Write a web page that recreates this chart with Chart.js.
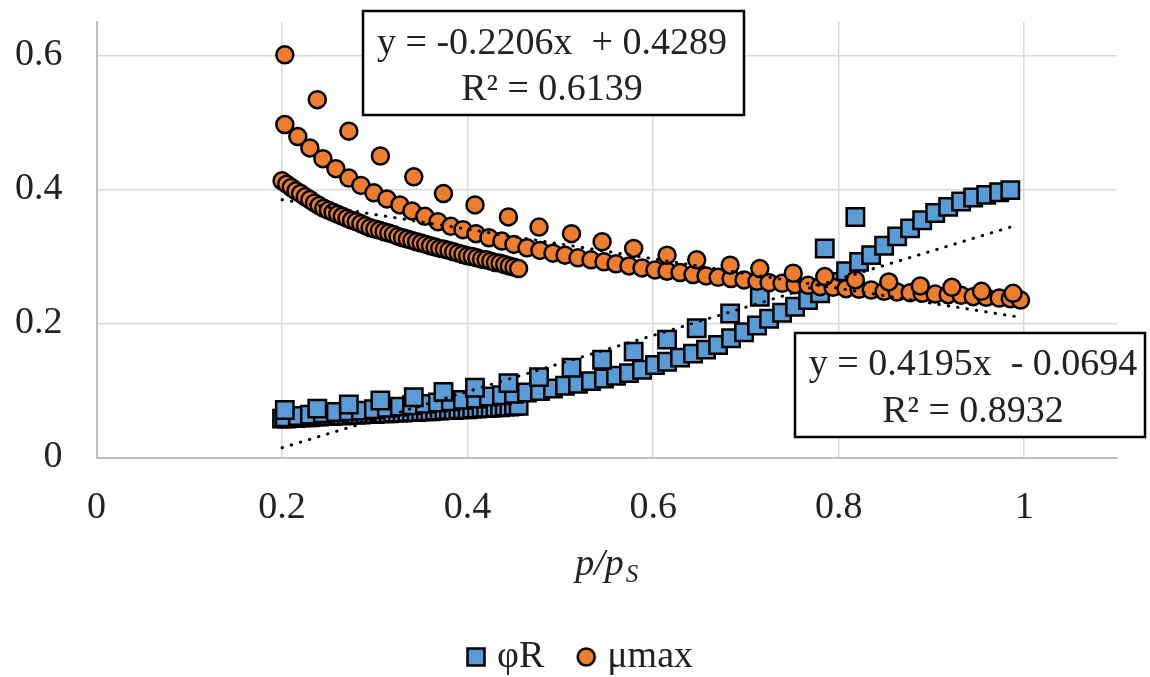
<!DOCTYPE html>
<html>
<head>
<meta charset="utf-8">
<script src="https://cdn.jsdelivr.net/npm/chart.js@4.4.1/dist/chart.umd.min.js"></script>
<style>
    html, body { margin: 0; padding: 0; background: #fff; }
</style>
</head>
<body>
<canvas id="myChart" width="1150" height="677"></canvas>
<script>
    // φR (blue squares) : three runs of measurements
    const phiSparseX = [0.203, 0.238, 0.272, 0.306, 0.342, 0.374, 0.408, 0.444, 0.477, 0.512, 0.545, 0.579, 0.615, 0.647, 0.683, 0.715, 0.785, 0.818];
    const phiSparse = [0.071, 0.073, 0.079, 0.085, 0.090, 0.098, 0.104, 0.111, 0.120, 0.134, 0.146, 0.158, 0.176, 0.193, 0.215, 0.240, 0.312, 0.359];

    const mediumX = [0.203, 0.217, 0.230, 0.244, 0.258, 0.272, 0.285, 0.299, 0.313, 0.327, 0.340, 0.354, 0.368, 0.382, 0.395, 0.409, 0.423, 0.437, 0.450, 0.464,
        0.478, 0.492, 0.505, 0.519, 0.533, 0.547, 0.560, 0.574, 0.588, 0.602, 0.615, 0.629, 0.643, 0.657, 0.670, 0.684, 0.698, 0.712, 0.725, 0.739,
        0.753, 0.767, 0.780, 0.794, 0.808, 0.822, 0.835, 0.849, 0.863, 0.877, 0.890, 0.904, 0.918, 0.932, 0.945, 0.959, 0.973, 0.985, 0.996];
    const phiMedium = [0.060, 0.062, 0.064, 0.066, 0.068, 0.069, 0.070, 0.072, 0.074, 0.076, 0.078, 0.080, 0.082, 0.084, 0.086, 0.088, 0.091, 0.093, 0.095, 0.097,
        0.099, 0.103, 0.107, 0.110, 0.114, 0.118, 0.122, 0.126, 0.131, 0.138, 0.143, 0.149, 0.155, 0.161, 0.168, 0.178, 0.187, 0.197, 0.207, 0.216,
        0.225, 0.235, 0.245, 0.262, 0.278, 0.292, 0.302, 0.316, 0.330, 0.342, 0.354, 0.365, 0.374, 0.382, 0.388, 0.392, 0.396, 0.399];

    const denseX = [0.200, 0.205, 0.210, 0.215, 0.220, 0.225, 0.230, 0.235, 0.240, 0.245, 0.250, 0.255, 0.260, 0.265, 0.270, 0.275, 0.280, 0.285, 0.290, 0.295,
        0.300, 0.305, 0.310, 0.315, 0.320, 0.325, 0.330, 0.335, 0.340, 0.345, 0.350, 0.355, 0.360, 0.365, 0.370, 0.375, 0.380, 0.385, 0.390, 0.395,
        0.400, 0.405, 0.410, 0.415, 0.420, 0.425, 0.430, 0.435, 0.440, 0.445, 0.450, 0.455];
    const phiDense = [0.058, 0.058, 0.059, 0.059, 0.060, 0.060, 0.060, 0.061, 0.061, 0.062, 0.062, 0.062, 0.063, 0.063, 0.063, 0.064, 0.064, 0.064, 0.065, 0.065,
        0.065, 0.066, 0.066, 0.066, 0.067, 0.067, 0.067, 0.068, 0.068, 0.068, 0.069, 0.069, 0.069, 0.070, 0.070, 0.071, 0.071, 0.071, 0.072, 0.072,
        0.072, 0.073, 0.073, 0.074, 0.074, 0.074, 0.075, 0.075, 0.076, 0.076, 0.077, 0.077];

    // μmax (orange circles)
    const muSparseX = [0.203, 0.238, 0.272, 0.306, 0.342, 0.374, 0.408, 0.444, 0.477, 0.512, 0.545, 0.579, 0.615, 0.647, 0.683, 0.715, 0.751, 0.785, 0.818, 0.854,
        0.888, 0.922, 0.954, 0.988];
    const muSparse = [0.601, 0.534, 0.487, 0.450, 0.419, 0.394, 0.377, 0.359, 0.344, 0.334, 0.322, 0.312, 0.302, 0.295, 0.287, 0.282, 0.275, 0.270, 0.265, 0.262,
        0.256, 0.254, 0.248, 0.245];
    const muMedium = [0.497, 0.479, 0.462, 0.446, 0.431, 0.417, 0.406, 0.395, 0.386, 0.377, 0.368, 0.360, 0.352, 0.345, 0.340, 0.334, 0.328, 0.323, 0.318, 0.313,
        0.309, 0.305, 0.302, 0.298, 0.295, 0.292, 0.289, 0.286, 0.283, 0.280, 0.278, 0.276, 0.273, 0.271, 0.269, 0.267, 0.265, 0.263, 0.261, 0.260,
        0.258, 0.257, 0.255, 0.254, 0.252, 0.251, 0.250, 0.248, 0.247, 0.246, 0.245, 0.244, 0.243, 0.242, 0.240, 0.239, 0.238, 0.237, 0.235];
    const muDense = [0.413, 0.408, 0.403, 0.398, 0.394, 0.389, 0.385, 0.380, 0.376, 0.372, 0.369, 0.366, 0.363, 0.360, 0.357, 0.354, 0.352, 0.349, 0.346, 0.343,
        0.341, 0.339, 0.337, 0.335, 0.333, 0.330, 0.328, 0.326, 0.324, 0.322, 0.320, 0.318, 0.316, 0.314, 0.312, 0.311, 0.309, 0.307, 0.305, 0.303,
        0.301, 0.300, 0.298, 0.296, 0.295, 0.293, 0.291, 0.290, 0.288, 0.286, 0.284, 0.282];

    // trendline coefficients, as printed on the chart
    const phiFit = {slope: 0.4195, intercept: -0.0694, r2: 0.8932};
    const muFit = {slope: -0.2206, intercept: 0.4289, r2: 0.6139};

    const xTicksStep = 0.2;
    const yTicksStep = 0.2;

    const serif = "'Liberation Serif', 'Times New Roman', serif";
    const textColor = "#222";
    const blue = "#5B9BD5";
    const orange = "#ED7D31";

    function zip(xs, ys) {
        return ys.map((y, i) => ({x: xs[i], y: y}));
    }

    const phiPoints = [].concat(zip(denseX, phiDense), zip(mediumX, phiMedium), zip(phiSparseX, phiSparse));
    const muPoints = [].concat(zip(denseX, muDense), zip(mediumX, muMedium), zip(muSparseX, muSparse));

    function trend(points, fit) {
        let xs = points.map(p => p.x);
        let lo = Math.min(...xs), hi = Math.max(...xs);
        return [{x: lo, y: fit.slope * lo + fit.intercept}, {x: hi, y: fit.slope * hi + fit.intercept}];
    }

    // little canvases for the legend markers
    function legendMark(kind, color) {
        const c = document.createElement("canvas");
        c.width = 22; c.height = 22;
        const g = c.getContext("2d");
        g.fillStyle = color;
        g.strokeStyle = "#000";
        g.lineWidth = 2.5;
        g.beginPath();
        if (kind === "rect") g.rect(2.5, 2.5, 17, 17);
        else g.arc(11, 11, 8.5, 0, Math.PI * 2);
        g.fill();
        g.stroke();
        return c;
    }
    const legendMarks = [legendMark("rect", blue), legendMark("circle", orange)];

    const fmtNum = (v) => v.toFixed(4);
    const fmtTick = (v) => String(Math.round(v * 10) / 10);

    const boxesPlugin = {
        id: "equationBoxes",
        afterLayout(chart) {
            // legend sits a bit right of the canvas centre in the original
            chart.legend.left += 25;
            chart.legend.right += 25;
        },
        afterDraw(chart) {
            const ctx = chart.ctx;
            const boxes = [
                {rect: [363, 11, 381, 104], cx: 552, base: 53.5,
                    lines: ["y = " + fmtNum(muFit.slope) + "x  + " + fmtNum(muFit.intercept), "R\u00B2 = " + fmtNum(muFit.r2)]},
                {rect: [795, 333, 350, 104], cx: 973, base: 375,
                    lines: ["y = " + fmtNum(phiFit.slope) + "x  - " + fmtNum(-phiFit.intercept), "R\u00B2 = " + fmtNum(phiFit.r2)]}
            ];
            ctx.save();
            boxes.forEach(b => {
                ctx.fillStyle = "#fff";
                ctx.fillRect(b.rect[0], b.rect[1], b.rect[2], b.rect[3]);
                ctx.strokeStyle = "#000";
                ctx.lineWidth = 2.5;
                ctx.strokeRect(b.rect[0], b.rect[1], b.rect[2], b.rect[3]);
                ctx.fillStyle = textColor;
                ctx.font = "38px " + serif;
                ctx.textAlign = "center";
                ctx.textBaseline = "alphabetic";
                ctx.fillText(b.lines[0], b.cx, b.base);
                ctx.fillText(b.lines[1], b.cx, b.base + 46.5);
            });

            // axis title p/pS with subscript
            const area = chart.chartArea;
            ctx.textAlign = "left";
            ctx.font = "italic 38px " + serif;
            const main = "p/p";
            const wMain = ctx.measureText(main).width;
            ctx.font = "italic 25px " + serif;
            const wSub = ctx.measureText("S").width;
            let x0 = (area.left + area.right) / 2 - (wMain + wSub + 2) / 2;
            ctx.font = "italic 38px " + serif;
            ctx.fillText(main, x0, 575);
            ctx.font = "italic 25px " + serif;
            ctx.fillText("S", x0 + wMain + 2, 582);
            ctx.restore();
        }
    };

    const ctx = document.getElementById("myChart").getContext("2d");

    const myChart = new Chart(ctx, {
        type: "scatter",
        data: {
            datasets: [
                {
                    label: "φR",
                    data: phiPoints,
                    pointStyle: "rect",
                    pointRadius: 12.3,
                    backgroundColor: blue,
                    borderColor: "#000",
                    borderWidth: 2.5,
                    order: 3
                },
                {
                    label: "μmax",
                    data: muPoints,
                    pointStyle: "circle",
                    pointRadius: 8.5,
                    backgroundColor: orange,
                    borderColor: "#000",
                    borderWidth: 2.5,
                    order: 2
                },
                {
                    label: "trend φR",
                    data: trend(phiPoints, phiFit),
                    showLine: true,
                    pointRadius: 0,
                    borderColor: "#000",
                    borderWidth: 3,
                    borderDash: [0.5, 9],
                    borderCapStyle: "round",
                    order: 1
                },
                {
                    label: "trend μmax",
                    data: trend(muPoints, muFit),
                    showLine: true,
                    pointRadius: 0,
                    borderColor: "#000",
                    borderWidth: 3,
                    borderDash: [0.5, 9],
                    borderCapStyle: "round",
                    order: 0
                }
            ]
        },
        options: {
            responsive: false,
            animation: false,
            devicePixelRatio: 1,
            events: [],
            layout: {
                padding: {top: 22, right: 33, left: 0, bottom: -9}
            },
            scales: {
                x: {
                    type: "linear",
                    min: 0,
                    max: 1.1,
                    ticks: {
                        stepSize: xTicksStep,
                        includeBounds: false,
                        padding: 28,
                        maxRotation: 0,
                        color: textColor,
                        font: {family: serif, size: 38},
                        callback: fmtTick
                    },
                    grid: {color: "#d9d9d9", lineWidth: 1.5, drawTicks: false},
                    border: {color: "#bfbfbf", width: 2},
                    afterFit: (scale) => {
                        scale.height = 140.5;
                        scale.paddingLeft = 0;
                        scale.paddingRight = 0;
                    }
                },
                y: {
                    type: "linear",
                    min: 0,
                    max: 0.65,
                    ticks: {
                        stepSize: yTicksStep,
                        includeBounds: false,
                        padding: 34,
                        color: textColor,
                        font: {family: serif, size: 38},
                        callback: fmtTick
                    },
                    grid: {color: "#d9d9d9", lineWidth: 1.5, drawTicks: false},
                    border: {color: "#bfbfbf", width: 2},
                    afterFit: (scale) => {
                        scale.width = 96.5;
                        scale.paddingTop = 0;
                        scale.paddingBottom = 0;
                    }
                }
            },
            plugins: {
                tooltip: {enabled: false},
                legend: {
                    position: "bottom",
                    labels: {
                        usePointStyle: true,
                        boxWidth: 4,
                        padding: 40,
                        color: textColor,
                        font: {family: serif, size: 38},
                        filter: (item) => item.datasetIndex < 2,
                        sort: (a, b) => a.datasetIndex - b.datasetIndex,
                        generateLabels(chart) {
                            let items = Chart.defaults.plugins.legend.labels.generateLabels(chart);
                            items.forEach(it => {
                                if (it.datasetIndex < 2) it.pointStyle = legendMarks[it.datasetIndex];
                            });
                            return items;
                        }
                    }
                }
            }
        },
        plugins: [boxesPlugin]
    });
</script>
</body>
</html>
